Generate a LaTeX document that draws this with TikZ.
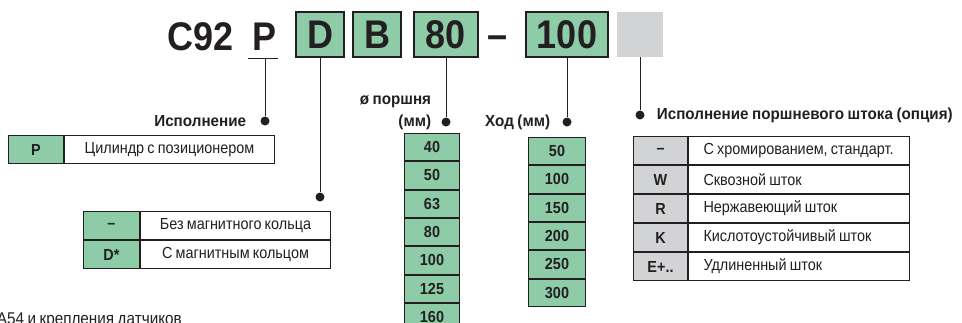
\documentclass[tikz,border=0pt]{standalone}
\usepackage{fontspec}
\setmainfont{Liberation Sans}[FakeStretch=0.9, WordSpace=0.8]
\newfontfamily\lblfont{Liberation Sans}[FakeStretch=0.95, WordSpace=0.85]
\usetikzlibrary{positioning}
\definecolor{codegreen}{RGB}{141,204,167}
\definecolor{codegrey}{RGB}{209,211,212}
\definecolor{inkdark}{RGB}{35,31,32}
\tikzset{
  codetext/.style={inner sep=0pt, text=inkdark, font=\fontsize{40}{40}\selectfont\bfseries},
  codebox/.style={codetext, draw=inkdark, line width=1.2pt, fill=codegreen, minimum height=45pt},
  keycell/.style={draw=inkdark, line width=1pt, fill=codegreen, inner sep=0pt, minimum height=28pt, text=inkdark, font=\fontsize{16}{16}\selectfont\bfseries},
  greykey/.style={keycell, fill=codegrey},
  desccell/.style={draw=inkdark, line width=1pt, fill=white, inner sep=0pt, minimum height=28pt, text=inkdark, font=\fontsize{16}{16}\selectfont},
  lbl/.style={inner sep=0pt, text=inkdark, font=\fontsize{16}{16}\lblfont\bfseries},
  dot/.style={circle, fill=inkdark, inner sep=0pt, minimum size=9pt},
  link/.style={draw=inkdark, line width=1pt}
}
\newcommand{\leftcell}[1]{\hbox to 191pt{#1\hss}}
\begin{document}
\begin{tikzpicture}[x=1pt, y=-1pt]
\useasboundingbox (0,0) rectangle (962,322);
% code row
\node[codetext, anchor=base] (c92) at (201,50) {C92};
\node[codetext, anchor=base] (p) at (265,50) {P};
\node[codebox, minimum width=48pt] (d) at (320,34.5) {D};
\node[codebox, minimum width=48pt] (b) at (377,34.5) {B};
\node[codebox, minimum width=64pt] (dia) at (446,34.5) {80};
\node[codetext, anchor=base] (dash) at (498,48) {–};
\node[codebox, minimum width=82pt] (stroke) at (567,34.5) {100};
\node[fill=codegrey, inner sep=0pt, minimum width=46pt, minimum height=45pt] (rod) at (640,34.5) {};
% underline under P
\coordinate (pl) at (248,58);
\coordinate (pr) at (278,58);
\coordinate (pbar) at (265,58);
\draw[link] (pl) -- (pr);
% dots
\node[dot] (pdot) at (265,121) {};
\node[dot] (ddot) at (320,197) {};
\node[dot] (diadot) at (446,122) {};
\node[dot] (strokedot) at (567,122) {};
\node[dot] (roddot) at (640,115) {};
\draw[link] (pbar) -- (pdot);
\draw[link] (d.south) -- (ddot);
\draw[link] (dia.south) -- (diadot);
\draw[link] (stroke.south) -- (strokedot);
\draw[link] (rod.south) -- (roddot);
% labels
\node[lbl, left=14pt of pdot] (plbl) {Исполнение};
\node[lbl, left=10pt of diadot] (diamm) {(мм)};
\node[lbl, anchor=east] (dialbl) at ([yshift=20pt]diamm.east) {ø поршня};
\node[lbl, left=12pt of strokedot] (strokelbl) {Ход (мм)};
\node[lbl, right=12pt of roddot] (rodlbl) {Исполнение поршневого штока (опция)};
% P table
\node[keycell, minimum width=55pt, anchor=north west] (pkey) at (8,135) {P};
\node[desccell, minimum width=210pt, anchor=west] (pdesc) at (pkey.east) {Цилиндр с позиционером};
% D table
\node[keycell, minimum width=56pt, anchor=north west] (dkey1) at (83,211) {–};
\node[desccell, minimum width=190pt, anchor=west] (ddesc1) at (dkey1.east) {Без магнитного кольца};
\node[keycell, minimum width=56pt, anchor=north] (dkey2) at (dkey1.south) {D*};
\node[desccell, minimum width=190pt, anchor=west] (ddesc2) at (dkey2.east) {С магнитным кольцом};
% piston diameter column
\node[keycell, minimum width=55pt, minimum height=27.3pt, anchor=north west] (dia1) at (404,133) {40};
\foreach \v [count=\i from 2, evaluate=\i as \j using int(\i-1)] in {50,63,80,100,125,160}
  \node[keycell, minimum width=55pt, minimum height=27.3pt, anchor=north] (dia\i) at (dia\j.south) {\v};
% stroke column
\node[keycell, minimum width=57pt, minimum height=27.3pt, anchor=north west] (stroke1) at (528,137) {50};
\foreach \v [count=\i from 2, evaluate=\i as \j using int(\i-1)] in {100,150,200,250,300}
  \node[keycell, minimum width=57pt, minimum height=27.3pt, anchor=north] (stroke\i) at (stroke\j.south) {\v};
% rod table
\node[greykey, minimum width=54pt, anchor=north west] (rodkey1) at (633,136) {–};
\node[desccell, minimum width=221pt, anchor=west] (roddesc1) at (rodkey1.east) {\leftcell{С хромированием, стандарт.}};
\foreach \k/\t [count=\i from 2, evaluate=\i as \j using int(\i-1)] in {W/Сквозной шток, R/Нержавеющий шток, K/Кислотоустойчивый шток, E+../Удлиненный шток} {
  \node[greykey, minimum width=54pt, anchor=north] (rodkey\i) at (rodkey\j.south) {\k};
  \node[desccell, minimum width=221pt, anchor=west] (roddesc\i) at (rodkey\i.east) {\leftcell{\t}};
}
% footnote fragment
\node[inner sep=0pt, anchor=base east, text=inkdark, font=\fontsize{17}{17}\selectfont] (note) at (182,324) {А54 и крепления датчиков};
\end{tikzpicture}
\end{document}
